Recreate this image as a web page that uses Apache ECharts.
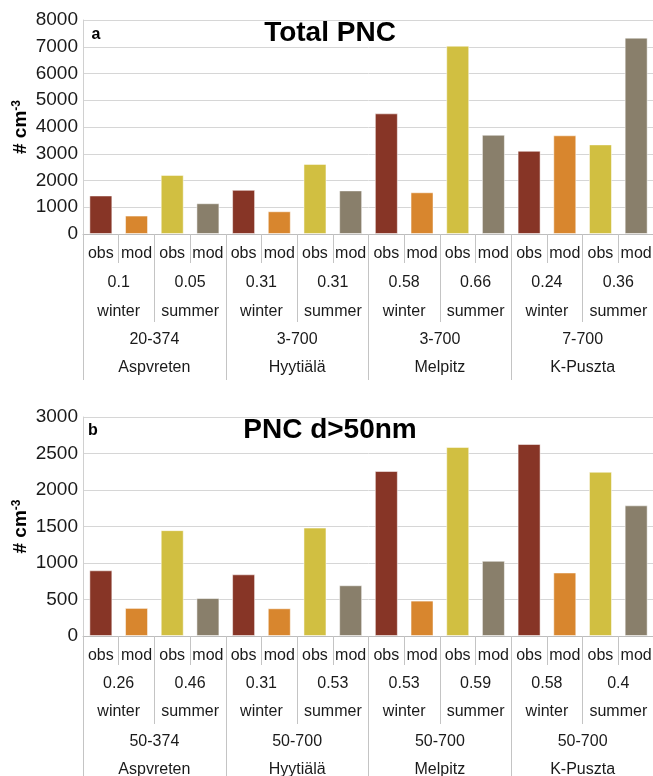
<!DOCTYPE html>
<html>
<head>
<meta charset="utf-8">
<script src="https://cdn.jsdelivr.net/npm/echarts@6/dist/echarts.min.js"></script>
<style>
    html, body { margin: 0; padding: 0; background: #fff; }
    #chart { width: 653px; height: 776px; }
</style>
</head>
<body>
<div id="chart"></div>
<script>
// bar labels (shared by both panels)
var barLabels = ['obs', 'mod', 'obs', 'mod', 'obs', 'mod', 'obs', 'mod', 'obs', 'mod', 'obs', 'mod', 'obs', 'mod', 'obs', 'mod'];
var seasons = ['winter', 'summer', 'winter', 'summer', 'winter', 'summer', 'winter', 'summer'];
var sites = ['Aspvreten', 'Hyytiälä', 'Melpitz', 'K-Puszta'];
var barColors = ['#873526', '#D8862E', '#D1BF41', '#897F6B'];

// a: Total PNC
var totalValues = [1440, 690, 2210, 1150, 1650, 850, 2620, 1630, 4510, 1560, 7040, 3710, 3110, 3690, 3350, 7340];
var totalCorr = ['0.1', '0.05', '0.31', '0.31', '0.58', '0.66', '0.24', '0.36'];
var totalRanges = ['20-374', '3-700', '3-700', '7-700'];

// b: PNC d>50nm
var largeValues = [900, 385, 1450, 520, 845, 380, 1485, 695, 2260, 485, 2590, 1030, 2630, 870, 2250, 1790];
var largeCorr = ['0.26', '0.46', '0.31', '0.53', '0.53', '0.59', '0.58', '0.4'];
var largeRanges = ['50-374', '50-700', '50-700', '50-700'];

var labelFont = "'Liberation Sans Narrow', 'Liberation Sans', Arial, sans-serif";
var sepColor = '#c4c4c4';

// one level of the category axis
function levelAxis(grid, data, margin, tickLen, showLine) {
    return {
        type: 'category',
        gridIndex: grid,
        position: 'bottom',
        data: data,
        axisLine: { show: showLine, lineStyle: { color: '#bdbdbd' } },
        axisTick: { show: tickLen > 0, length: tickLen, lineStyle: { color: sepColor } },
        axisLabel: {
            interval: 0,
            margin: margin,
            verticalAlign: 'middle',
            fontFamily: labelFont,
            fontSize: 16,
            color: '#1a1a1a'
        },
        splitLine: { show: false }
    };
}

function valueAxis(grid, max, interval) {
    return {
        type: 'value',
        gridIndex: grid,
        min: 0,
        max: max,
        interval: interval,
        name: '{a|# cm}{b|-3}',
        nameLocation: 'middle',
        nameGap: 52,
        nameMoveOverlap: false,
        nameTextStyle: {
            rich: {
                a: { fontFamily: 'Liberation Sans', fontWeight: 'bold', fontSize: 19, color: '#000' },
                b: { fontFamily: 'Liberation Sans', fontWeight: 'bold', fontSize: 12, color: '#000', verticalAlign: 'top', padding: [0, 0, 8, 0] }
            }
        },
        axisLine: { show: true, lineStyle: { color: '#d0d0d0' } },
        axisTick: { show: false },
        axisLabel: {
            margin: 5,
            fontFamily: 'Liberation Sans',
            fontSize: 19,
            color: '#1a1a1a',
            formatter: function (v) { return String(v); }
        },
        splitLine: { lineStyle: { color: '#d6d6d6' } }
    };
}

function barData(values) {
    var d = [];
    for (var i = 0; i < values.length; i++) {
        d.push({ value: values[i], itemStyle: { color: barColors[i % 4] } });
    }
    return d;
}

function label(text, x, y, size) {
    return {
        type: 'text',
        x: x,
        y: y,
        z: 10,
        style: {
            text: text,
            fontFamily: 'Liberation Sans',
            fontWeight: 'bold',
            fontSize: size,
            fill: '#000',
            align: 'center',
            verticalAlign: 'middle'
        }
    };
}

var myChart = echarts.init(document.getElementById('chart'));

var option = {
    animation: false,
    backgroundColor: '#fff',
    grid: [
        { left: 83, width: 571, top: 20, height: 214, containLabel: false, outerBoundsMode: 'none' },
        { left: 83, width: 571, top: 417, height: 219, containLabel: false, outerBoundsMode: 'none' }
    ],
    xAxis: [
        levelAxis(0, barLabels, 20, 29, true),
        levelAxis(0, totalCorr, 49, 0, false),
        levelAxis(0, seasons, 78, 88, false),
        levelAxis(0, totalRanges, 106, 0, false),
        levelAxis(0, sites, 134, 146, false),
        levelAxis(1, barLabels, 20, 29, true),
        levelAxis(1, largeCorr, 48, 0, false),
        levelAxis(1, seasons, 76, 88, false),
        levelAxis(1, largeRanges, 106, 0, false),
        levelAxis(1, sites, 134, 146, false)
    ],
    yAxis: [
        valueAxis(0, 8000, 1000),
        valueAxis(1, 3000, 500)
    ],
    graphic: [
        label('Total PNC', 330, 33, 28),
        label('a', 96, 35, 16),
        label('PNC d>50nm', 330, 430, 28),
        label('b', 93, 431, 16)
    ],
    series: [
        {
            name: 'Total PNC',
            type: 'bar',
            xAxisIndex: 0,
            yAxisIndex: 0,
            barWidth: 23,
            itemStyle: { borderColor: 'rgba(255,255,255,0.5)', borderWidth: 1 },
            data: barData(totalValues)
        },
        {
            name: 'PNC d>50nm',
            type: 'bar',
            xAxisIndex: 5,
            yAxisIndex: 1,
            barWidth: 23,
            itemStyle: { borderColor: 'rgba(255,255,255,0.5)', borderWidth: 1 },
            data: barData(largeValues)
        }
    ]
};

myChart.setOption(option, true);
</script>
</body>
</html>
